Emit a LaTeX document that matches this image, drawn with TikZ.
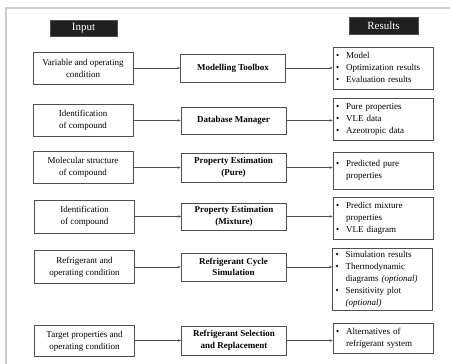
\documentclass[tikz,border=0pt]{standalone}
\usepackage{fontspec}
\setmainfont{Liberation Serif}
\usetikzlibrary{arrows.meta}

\definecolor{framegray}{HTML}{C9CDD1}
\definecolor{boxgray}{HTML}{505050}
\definecolor{headfill}{HTML}{202020}

\tikzset{
	header/.style={draw=boxgray,fill=headfill,text=white,font=\rmfamily\fontsize{11}{13}\selectfont,inner sep=0pt},
	inbox/.style={draw=boxgray,line width=0.8pt,minimum width=100pt,minimum height=32pt,inner sep=1pt,align=center,font=\rmfamily\fontsize{9}{12}\selectfont},
	toolbox/.style={draw=boxgray,line width=0.8pt,minimum width=105pt,minimum height=28pt,inner sep=1pt,align=center,font=\rmfamily\fontsize{9}{11.5}\selectfont\bfseries},
	resbox/.style={draw=boxgray,line width=0.8pt,minimum width=100pt,text width=94pt,inner sep=3pt,align=left,font=\rmfamily\fontsize{9}{12}\selectfont},
	flow/.style={draw=boxgray,line width=0.7pt,-{Stealth[length=3pt,width=2.6pt]}}
}

\newcommand{\reslist}[1]{\begin{tabular}{@{}l@{\hspace{7pt}}l@{}}#1\end{tabular}}

\begin{document}
\begin{tikzpicture}[x=1pt,y=-1pt]
	\useasboundingbox (0,0) rectangle (450,364);

	% page frame
	\draw[framegray,line width=1.4pt] (6,364) -- (6,8) -- (450,8);

	% column headers
	\node[header,minimum width=67pt,minimum height=16pt] (hin) at (83.5,28) {Input};
	\node[header,minimum width=69pt,minimum height=17pt] (hres) at (383.5,25.5) {Results};

	% inputs
	\node[inbox] (in1) at (83,68) {Variable and operating\\condition};
	\node[inbox] (in2) at (83,120) {Identification\\of compound};
	\node[inbox] (in3) at (83,167.5) {Molecular structure\\of compound};
	\node[inbox,minimum height=33pt] (in4) at (84.5,216.5) {Identification\\of compound};
	\node[inbox,minimum height=33pt] (in5) at (84.5,267) {Refrigerant and\\operating condition};
	\node[inbox,minimum height=31pt] (in6) at (84.5,341) {Target properties and\\operating condition};

	% tools
	\node[toolbox] (tb1) at (233,68) {Modelling Toolbox};
	\node[toolbox,minimum height=27pt] (tb2) at (233.5,120.5) {Database Manager};
	\node[toolbox,minimum height=29pt] (tb3) at (233.5,167.5) {Property Estimation\\(Pure)};
	\node[toolbox,minimum height=27pt] (tb4) at (234,216.5) {Property Estimation\\(Mixture)};
	\node[toolbox] (tb5) at (233.5,267) {Refrigerant Cycle\\Simulation};
	\node[toolbox,minimum height=29pt] (tb6) at (234,340.5) {Refrigerant Selection\\and Replacement};

	% results
	\node[resbox,minimum height=41pt] (rs1) at (383,68.5) {\reslist{\textbullet & Model\\ \textbullet & Optimization results\\ \textbullet & Evaluation results}};
	\node[resbox,minimum height=37pt] (rs2) at (383,119.5) {\reslist{\textbullet & Pure properties\\ \textbullet & VLE data\\ \textbullet & Azeotropic data}};
	\node[resbox,minimum height=37pt] (rs3) at (383,170.5) {\reslist{\textbullet & Predicted pure\\ & properties}};
	\node[resbox,minimum height=40pt] (rs4) at (383,218) {\reslist{\textbullet & Predict mixture\\ & properties\\ \textbullet & VLE diagram}};
	\node[resbox,minimum height=62pt,inner sep=1pt,text width=98pt] (rs5) at (382.5,279) {\hspace{2pt}\reslist{\textbullet & Simulation results\\ \textbullet & Thermodynamic\\ & diagrams \textit{(optional)}\\ \textbullet & Sensitivity plot\\ & \textit{(optional)}}};
	\node[resbox,minimum height=30pt] (rs6) at (383,338) {\reslist{\textbullet & Alternatives of\\ & refrigerant system}};

	% connections, level with the tool boxes
	\foreach \i in {1,...,6} {
		\draw[flow] (in\i.east |- tb\i) -- (tb\i.west);
		\draw[flow] (tb\i.east) -- (tb\i.east -| rs\i.west);
	}

\end{tikzpicture}
\end{document}
